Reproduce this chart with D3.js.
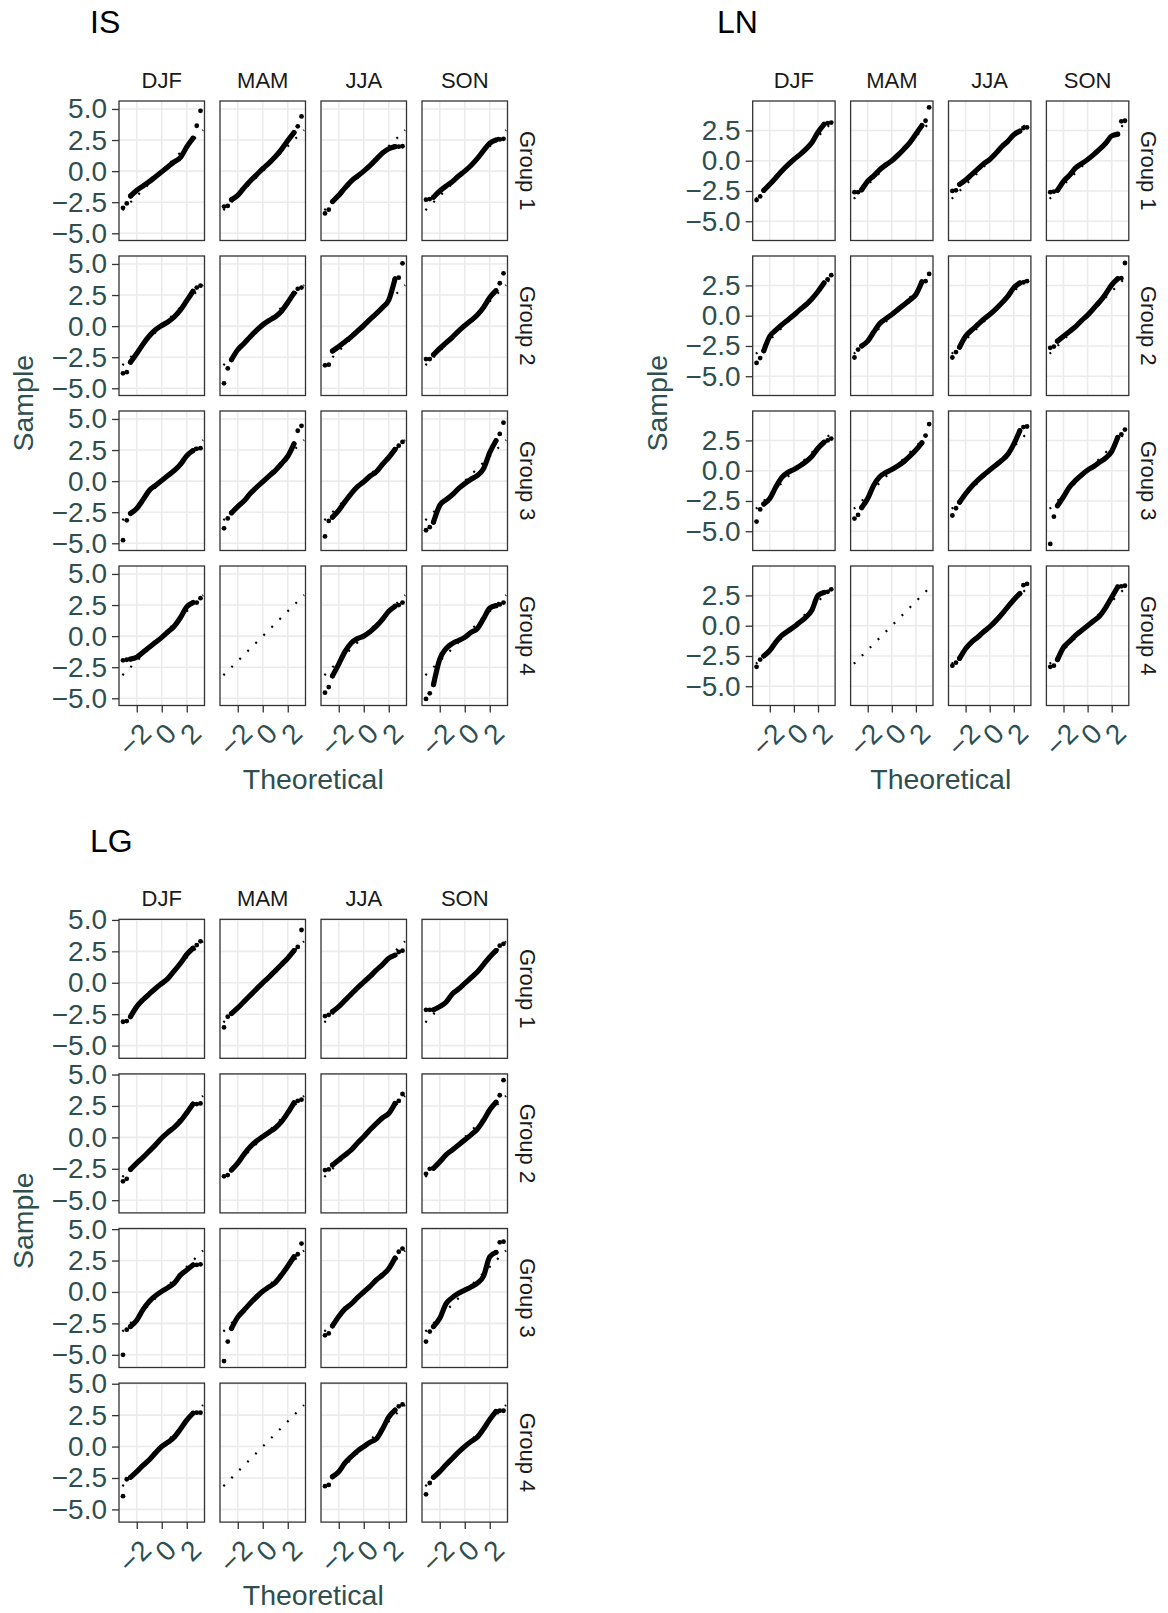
<!DOCTYPE html>
<html>
<head>
<meta charset="utf-8">
<script src="https://cdn.jsdelivr.net/npm/d3@7"></script>
<style>
  body { margin: 0; background: #fff; }
  text { font-family: "Liberation Sans", Arial, Helvetica, sans-serif; }
</style>
</head>
<body>
<div id="chart"></div>
<script>
// facets
const seasons = ["DJF", "MAM", "JJA", "SON"];
const groups = ["Group 1", "Group 2", "Group 3", "Group 4"];

// theoretical quantiles at which the sample quantiles were read
const theoretical = [-3.1, -2.8, -2.5, -2, -1.5, -1, -0.5, 0, 0.5, 1, 1.5, 2, 2.5, 2.8, 3.1];
const xTicks = [-2, 0, 2];
const refLineSpan = [-3.15, 3.3]; // dotted 1:1 line

// IS sample quantiles: one array per group, [DJF, MAM, JJA, SON]
const isGroup1 = [
  [-2.95, -2.6, -2.0, -1.55, -1.2, -0.85, -0.45, -0.05, 0.35, 0.75, 1.1, 1.95, 2.65, 3.65, 4.85],
  [-2.85, -2.8, -2.3, -1.95, -1.35, -0.8, -0.3, 0.2, 0.65, 1.15, 1.75, 2.45, 3.1, 3.6, 4.4],
  [-3.4, -3.1, -2.45, -1.95, -1.35, -0.8, -0.4, 0.0, 0.45, 0.95, 1.45, 1.8, 1.97, 1.97, 2.0],
  [-2.3, -2.25, -2.1, -1.6, -1.2, -0.85, -0.4, 0.0, 0.45, 1.0, 1.65, 2.25, 2.5, 2.55, 2.6]
];
const isGroup2 = [
  [-3.8, -3.7, -2.9, -2.2, -1.45, -0.8, -0.3, 0.05, 0.35, 0.75, 1.3, 2.05, 2.8, 3.1, 3.25],
  [-4.6, -3.4, -2.7, -1.9, -1.4, -0.85, -0.35, 0.1, 0.45, 0.75, 1.2, 1.9, 2.65, 3.0, 3.1],
  [-3.15, -3.1, -2.0, -1.65, -1.25, -0.85, -0.4, 0.05, 0.55, 1.0, 1.5, 2.1, 3.8, 3.9, 5.05],
  [-2.65, -2.65, -2.3, -1.8, -1.35, -0.9, -0.4, 0.05, 0.45, 0.9, 1.5, 2.3, 2.85, 3.45, 4.25]
];
const isGroup3 = [
  [-4.75, -3.15, -2.6, -2.2, -1.5, -0.75, -0.35, 0.05, 0.45, 0.85, 1.35, 2.05, 2.45, 2.6, 2.65],
  [-3.8, -3.0, -2.55, -2.05, -1.6, -1.0, -0.5, -0.05, 0.4, 0.85, 1.4, 2.0, 3.0, 4.05, 4.45],
  [-4.45, -3.2, -2.9, -2.35, -1.65, -1.0, -0.45, -0.05, 0.4, 0.75, 1.35, 1.9, 2.55, 2.85, 3.15],
  [-3.95, -3.7, -3.3, -1.95, -1.5, -1.1, -0.6, -0.2, 0.15, 0.45, 1.0, 2.3, 3.25, 3.8, 4.7]
];
const isGroup4 = [
  [-1.95, -1.9, -1.85, -1.7, -1.3, -0.9, -0.5, -0.1, 0.35, 0.8, 1.5, 2.35, 2.7, 2.7, 3.05],
  null,
  [-4.55, -4.1, -3.2, -2.25, -1.25, -0.55, -0.2, 0.0, 0.35, 0.8, 1.35, 2.0, 2.4, 2.5, 2.7],
  [-5.05, -4.6, -3.9, -1.85, -1.0, -0.6, -0.35, -0.1, 0.3, 0.6, 1.4, 2.25, 2.45, 2.55, 2.7]
];

// LN sample quantiles
const lnGroup1 = [
  [-3.25, -2.95, -2.45, -1.95, -1.4, -0.85, -0.35, 0.1, 0.5, 0.95, 1.5, 2.35, 3.0, 3.1, 3.15],
  [-2.6, -2.6, -2.4, -1.7, -1.25, -0.75, -0.35, 0.0, 0.45, 0.95, 1.5, 2.2, 2.9, 3.3, 4.4],
  [-2.5, -2.45, -1.95, -1.6, -1.15, -0.7, -0.25, 0.1, 0.6, 1.15, 1.6, 2.15, 2.45, 2.7, 2.75],
  [-2.6, -2.55, -2.45, -1.7, -1.2, -0.6, -0.25, 0.1, 0.5, 0.95, 1.45, 2.05, 2.2, 3.25, 3.3]
];
const lnGroup2 = [
  [-3.9, -3.5, -2.9, -1.7, -1.2, -0.75, -0.35, 0.05, 0.5, 0.9, 1.4, 2.0, 2.7, 3.0, 3.35],
  [-3.45, -2.8, -2.5, -2.1, -1.35, -0.65, -0.25, 0.1, 0.5, 0.9, 1.3, 1.75, 2.8, 2.85, 3.45],
  [-3.45, -3.0, -2.6, -1.7, -1.2, -0.75, -0.3, 0.1, 0.55, 1.05, 1.6, 2.3, 2.7, 2.75, 2.85],
  [-2.65, -2.55, -2.1, -1.7, -1.3, -0.9, -0.4, 0.05, 0.6, 1.15, 1.8, 2.55, 3.05, 3.1, 4.35]
];
const lnGroup3 = [
  [-4.2, -3.2, -2.75, -2.3, -1.35, -0.55, -0.15, 0.1, 0.4, 0.75, 1.2, 1.85, 2.35, 2.5, 2.65],
  [-3.95, -3.65, -3.05, -2.3, -1.2, -0.5, -0.15, 0.1, 0.4, 0.75, 1.2, 1.7, 2.3, 2.9, 3.85],
  [-3.7, -3.1, -2.6, -1.9, -1.3, -0.8, -0.35, 0.05, 0.45, 0.85, 1.35, 2.2, 3.3, 3.6, 3.65],
  [-6.05, -3.8, -2.9, -2.15, -1.35, -0.8, -0.35, 0.05, 0.35, 0.7, 1.05, 1.6, 2.75, 3.0, 3.4]
];
const lnGroup4 = [
  [-3.4, -2.8, -2.5, -2.05, -1.35, -0.8, -0.45, -0.1, 0.3, 0.7, 1.3, 2.5, 2.75, 2.8, 3.0],
  null,
  [-3.3, -3.05, -2.7, -1.9, -1.35, -0.95, -0.5, -0.1, 0.4, 0.95, 1.55, 2.15, 2.65, 3.35, 3.45],
  [-3.4, -3.3, -2.8, -1.8, -1.3, -0.8, -0.4, 0.0, 0.4, 0.8, 1.5, 2.35, 3.2, 3.25, 3.3]
];

// LG sample quantiles
const lgGroup1 = [
  [-3.1, -3.05, -2.7, -1.9, -1.35, -0.9, -0.45, -0.05, 0.35, 0.95, 1.55, 2.25, 2.75, 3.0, 3.3],
  [-3.55, -2.7, -2.45, -2.0, -1.5, -1.0, -0.5, 0.0, 0.45, 0.95, 1.45, 1.95, 2.55, 2.85, 4.2],
  [-2.65, -2.55, -2.3, -1.9, -1.4, -0.9, -0.4, 0.05, 0.5, 1.0, 1.45, 1.95, 2.2, 2.45, 2.55],
  [-2.15, -2.15, -2.15, -1.9, -1.55, -0.9, -0.5, -0.05, 0.4, 0.85, 1.45, 2.05, 2.55, 2.95, 3.1]
];
const lgGroup2 = [
  [-3.5, -3.3, -2.55, -2.05, -1.6, -1.1, -0.6, -0.05, 0.4, 0.8, 1.3, 1.95, 2.65, 2.65, 2.7],
  [-3.1, -3.0, -2.6, -2.05, -1.35, -0.75, -0.3, 0.05, 0.4, 0.75, 1.25, 1.95, 2.75, 2.9, 3.0],
  [-2.6, -2.55, -2.2, -1.8, -1.4, -1.0, -0.45, 0.05, 0.6, 1.1, 1.55, 1.9, 2.7, 2.9, 3.45],
  [-2.9, -2.5, -2.45, -1.95, -1.4, -1.0, -0.6, -0.2, 0.2, 0.65, 1.35, 2.2, 2.8, 3.35, 4.55]
];
const lgGroup3 = [
  [-5.0, -3.0, -2.75, -2.25, -1.4, -0.75, -0.3, 0.05, 0.35, 0.7, 1.35, 1.75, 2.15, 2.15, 2.2],
  [-5.5, -3.95, -2.9, -2.0, -1.45, -0.9, -0.4, 0.05, 0.4, 0.75, 1.35, 2.05, 2.8, 3.0, 3.85],
  [-3.45, -3.3, -2.7, -1.95, -1.35, -0.95, -0.45, 0.0, 0.45, 0.95, 1.35, 1.85, 2.7, 3.2, 3.45],
  [-3.95, -3.15, -2.75, -2.1, -0.95, -0.45, -0.1, 0.15, 0.4, 0.7, 1.25, 2.8, 3.15, 3.95, 4.0]
];
const lgGroup4 = [
  [-3.95, -2.6, -2.45, -2.0, -1.5, -1.05, -0.5, 0.0, 0.35, 0.75, 1.4, 2.1, 2.65, 2.7, 2.7],
  null,
  [-3.15, -3.05, -2.4, -2.0, -1.3, -0.8, -0.35, 0.0, 0.35, 0.6, 1.4, 2.35, 2.9, 3.2, 3.35],
  [-3.8, -2.9, -2.45, -2.0, -1.45, -0.95, -0.45, 0.0, 0.4, 0.75, 1.4, 2.15, 2.8, 2.85, 2.85]
];

const ticksFull = [-5, -2.5, 0, 2.5, 5];
const ticksLN = [-5, -2.5, 0, 2.5];

const W = 1168, H = 1613;
const svg = d3.select("#chart").append("svg")
  .attr("width", W).attr("height", H)
  .style("display", "block");

const fmt = d3.format(".1f");
const minus = s => s.replace("-", "\u2212");
const Y_TICK_FONT = 28;
const X_TICK_FONT = 28;

function drawGrid(cfg) {
  const root = svg.append("g").attr("class", "plot-" + cfg.title);

  // title
  root.append("text")
    .attr("x", cfg.titleX).attr("y", cfg.titleY)
    .attr("font-size", 32).attr("fill", "#000")
    .text(cfg.title);

  cfg.rows.forEach((row, r) => {
    const y0 = cfg.top + r * cfg.rowStep;
    const y = d3.scaleLinear().domain(cfg.yDomain).range([y0 + cfg.panelH, y0]);

    row.forEach((vals, c) => {
      const x0 = cfg.left + c * cfg.colStep;
      const x = d3.scaleLinear().domain([-3.42, 3.42]).range([x0, x0 + cfg.panelW]);
      const g = root.append("g");
      const clipId = `clip-${cfg.title}-${r}-${c}`;
      g.append("clipPath").attr("id", clipId)
        .append("rect").attr("x", x0).attr("y", y0)
        .attr("width", cfg.panelW).attr("height", cfg.panelH);

      // grid lines
      g.selectAll(".gx").data(xTicks).enter().append("line")
        .attr("x1", d => x(d)).attr("x2", d => x(d))
        .attr("y1", y0).attr("y2", y0 + cfg.panelH)
        .attr("stroke", "#ebebeb").attr("stroke-width", 1.6);
      g.selectAll(".gy").data(cfg.yTicks).enter().append("line")
        .attr("y1", d => y(d)).attr("y2", d => y(d))
        .attr("x1", x0).attr("x2", x0 + cfg.panelW)
        .attr("stroke", "#ebebeb").attr("stroke-width", 1.6);

      const plot = g.append("g").attr("clip-path", `url(#${clipId})`);

      if (vals) {
        const pts = theoretical.map((t, i) => [t, vals[i]]);
        const body = pts.slice(2, 13);
        plot.append("path")
          .attr("d", d3.line().x(d => x(d[0])).y(d => y(d[1])).curve(d3.curveMonotoneX)(body))
          .attr("fill", "none").attr("stroke", "#000")
          .attr("stroke-width", 5.2).attr("stroke-linecap", "round").attr("stroke-linejoin", "round");
        plot.selectAll("circle")
          .data(pts.filter((d, i) => i < 3 || i > 11))
          .enter().append("circle")
          .attr("cx", d => x(d[0])).attr("cy", d => y(d[1]))
          .attr("r", 2.4).attr("fill", "#000");
      }

      // dotted reference line (1:1)
      plot.append("line")
        .attr("x1", x(refLineSpan[0])).attr("y1", y(refLineSpan[0]))
        .attr("x2", x(refLineSpan[1])).attr("y2", y(refLineSpan[1]))
        .attr("stroke", "#000").attr("stroke-width", 2.2)
        .attr("stroke-dasharray", "2 9.3");

      // panel border
      g.append("rect")
        .attr("x", x0).attr("y", y0)
        .attr("width", cfg.panelW).attr("height", cfg.panelH)
        .attr("fill", "none").attr("stroke", "#333").attr("stroke-width", 1.3);

      // y axis on first column
      if (c === 0) {
        const ya = g.append("g").attr("transform", `translate(${x0},0)`)
          .call(d3.axisLeft(y).tickValues(cfg.yTicks).tickFormat(d => minus(fmt(d))).tickSize(7).tickPadding(5));
        ya.select(".domain").remove();
        ya.attr("font-size", Y_TICK_FONT);
        ya.selectAll(".tick line").attr("stroke", "#333").attr("stroke-width", 1.3);
        ya.selectAll(".tick text").attr("fill", "#2f4f4f")
          .style("font-size", Y_TICK_FONT + "px")
          .attr("font-family", "Liberation Sans, Arial, sans-serif");
      }

      // x axis on bottom row, labels turned 45 degrees
      if (r === cfg.rows.length - 1) {
        const xa = g.append("g").attr("transform", `translate(0,${y0 + cfg.panelH})`)
          .call(d3.axisBottom(x).tickValues(xTicks).tickFormat(d => minus(String(d))).tickSize(7));
        xa.select(".domain").remove();
        xa.attr("font-size", X_TICK_FONT);
        xa.selectAll(".tick line").attr("stroke", "#333").attr("stroke-width", 1.3);
        xa.selectAll(".tick text")
          .attr("fill", "#2f4f4f")
          .style("font-size", X_TICK_FONT + "px")
          .attr("font-family", "Liberation Sans, Arial, sans-serif")
          .attr("text-anchor", "end")
          .attr("x", 2).attr("y", 17).attr("dy", "0.72em")
          .attr("transform", "rotate(-45, 0, 17)");
      }

      // season strip
      if (r === 0) {
        g.append("text")
          .attr("x", x0 + cfg.panelW / 2).attr("y", y0 - 13)
          .attr("text-anchor", "middle").attr("font-size", 22).attr("fill", "#1a1a1a")
          .text(seasons[c]);
      }
    });

    // group strip on the right
    const xr = cfg.left + 3 * cfg.colStep + cfg.panelW + 20;
    const yc = y0 + cfg.panelH / 2;
    root.append("text")
      .attr("transform", `translate(${xr},${yc}) rotate(90)`)
      .attr("text-anchor", "middle").attr("dominant-baseline", "central")
      .attr("font-size", 22).attr("fill", "#1a1a1a")
      .text(groups[r]);
  });

  // axis titles
  const gridTop = cfg.top;
  const gridBottom = cfg.top + 3 * cfg.rowStep + cfg.panelH;
  const gridLeft = cfg.left;
  const gridRight = cfg.left + 3 * cfg.colStep + cfg.panelW;
  root.append("text")
    .attr("x", (gridLeft + gridRight) / 2).attr("y", gridBottom + 83)
    .attr("text-anchor", "middle").attr("font-size", 28.5).attr("fill", "#2f4f4f")
    .text("Theoretical");
  root.append("text")
    .attr("transform", `translate(${gridLeft - 86},${(gridTop + gridBottom) / 2}) rotate(-90)`)
    .attr("text-anchor", "middle").attr("font-size", 28.5).attr("fill", "#2f4f4f")
    .text("Sample");
}

drawGrid({
  title: "IS", titleX: 90, titleY: 33,
  left: 119, colStep: 101, panelW: 85.5,
  top: 101, rowStep: 155, panelH: 139.5,
  yDomain: [-5.58, 5.64], yTicks: ticksFull,
  rows: [isGroup1, isGroup2, isGroup3, isGroup4]
});

drawGrid({
  title: "LN", titleX: 717, titleY: 33,
  left: 752.7, colStep: 97.9, panelW: 82.4,
  top: 101, rowStep: 155, panelH: 139.5,
  yDomain: [-6.59, 4.93], yTicks: ticksLN,
  rows: [lnGroup1, lnGroup2, lnGroup3, lnGroup4]
});

drawGrid({
  title: "LG", titleX: 90, titleY: 852,
  left: 119, colStep: 101, panelW: 85.5,
  top: 919.3, rowStep: 154.6, panelH: 139,
  yDomain: [-6.01, 5.05], yTicks: ticksFull,
  rows: [lgGroup1, lgGroup2, lgGroup3, lgGroup4]
});
</script>
</body>
</html>
